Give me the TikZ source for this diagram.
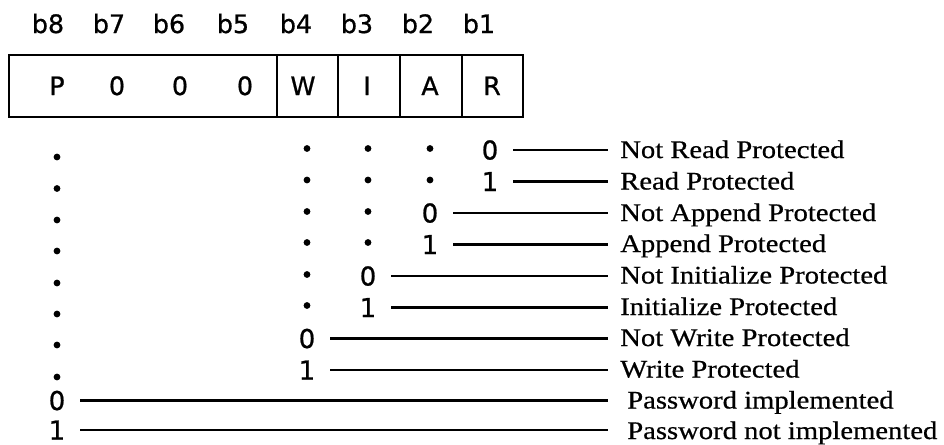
\documentclass[tikz,border=0pt]{standalone}
\usepackage{fontspec}
\setmainfont[FakeStretch=1.13, FakeBold=0.6]{Liberation Serif}
\newfontfamily\bitfont[FakeBold=0.8]{DejaVu Sans}
\usetikzlibrary{positioning}

\begin{document}
\begin{tikzpicture}[
    x=0.75pt, y=-0.75pt,
    bitlbl/.style={font=\bitfont\fontsize{19}{21}\selectfont, anchor=base, inner sep=0pt},
    cell/.style={font=\bitfont\fontsize{19}{21}\selectfont, anchor=base, inner sep=0pt},
    val/.style={font=\bitfont\fontsize{19.5}{21}\selectfont, anchor=base, inner sep=0pt},
    meaning/.style={font=\fontsize{19}{21}\selectfont, anchor=base west, inner sep=0pt},
    wire/.style={line width=2pt, shorten <=11pt, shorten >=9pt},
    frame/.style={line width=2.2pt},
    divider/.style={line width=1.8pt},
]
    \useasboundingbox (0,0) rectangle (944,444);

    % bit numbers
    \node[bitlbl] (b8) at (48,33) {b8};
    \node[bitlbl] (b7) at (109,33) {b7};
    \node[bitlbl] (b6) at (169,33) {b6};
    \node[bitlbl] (b5) at (233,33) {b5};
    \node[bitlbl] (b4) at (296,33) {b4};
    \node[bitlbl] (b3) at (357,33) {b3};
    \node[bitlbl] (b2) at (418,33) {b2};
    \node[bitlbl] (b1) at (479,33) {b1};

    % register
    \draw[frame] (9,55) rectangle (523,117);
    \draw[divider] (277,55) -- (277,117);
    \draw[divider] (338,55) -- (338,117);
    \draw[divider] (400,55) -- (400,117);
    \draw[divider] (462,55) -- (462,117);
    \node[cell] (cP) at (57,95) {P};
    \node[cell] (c7) at (117,95) {0};
    \node[cell] (c6) at (180,95) {0};
    \node[cell] (c5) at (245,95) {0};
    \node[cell] (cW) at (303,95) {W};
    \node[cell] (cI) at (367,95) {I};
    \node[cell] (cA) at (430,95) {A};
    \node[cell] (cR) at (492,95) {R};

    % don't-care dots
    \foreach \y in {157,188.5,220,251,283,314,345,377}
        \fill (57,\y) circle[radius=3.4];
    \foreach \y in {148.5,180}
        \fill (430,\y) circle[radius=3.4];
    \foreach \y in {148.5,180,211.5,242.5}
        \fill (368,\y) circle[radius=3.4];
    \foreach \y in {148.5,180,211.5,242.5,274.5,305.5}
        \fill (307,\y) circle[radius=3.4];

    % values
    \node[val] (rd0) at (490,159.5) {0};
    \node[val] (rd1) at (490,191) {1};
    \node[val] (ap0) at (430,222.5) {0};
    \node[val] (ap1) at (430,254) {1};
    \node[val] (in0) at (368,285.5) {0};
    \node[val] (in1) at (368,317) {1};
    \node[val] (wr0) at (307,348) {0};
    \node[val] (wr1) at (307,379.5) {1};
    \node[val] (pw0) at (57,410) {0};
    \node[val] (pw1) at (57,439.5) {1};

    % meanings
    \node[meaning] (mrd0) at (620,158) {Not Read Protected};
    \node[meaning] (mrd1) at (620,189.5) {Read Protected};
    \node[meaning] (map0) at (620,221) {Not Append Protected};
    \node[meaning] (map1) at (620,252) {Append Protected};
    \node[meaning] (min0) at (620,283.5) {Not Initialize Protected};
    \node[meaning] (min1) at (620,315) {Initialize Protected};
    \node[meaning] (mwr0) at (620,346) {Not Write Protected};
    \node[meaning] (mwr1) at (620,377.5) {Write Protected};
    \node[meaning] (mpw0) at (627,408.5) {Password implemented};
    \node[meaning] (mpw1) at (627,439) {Password not implemented};

    \draw[wire] (rd0.east) -- (rd0.east -| mrd0.west);
    \draw[wire] (rd1.east) -- (rd1.east -| mrd1.west);
    \draw[wire] (ap0.east) -- (ap0.east -| map0.west);
    \draw[wire] (ap1.east) -- (ap1.east -| map1.west);
    \draw[wire] (in0.east) -- (in0.east -| min0.west);
    \draw[wire] (in1.east) -- (in1.east -| min1.west);
    \draw[wire] (wr0.east) -- (wr0.east -| mwr0.west);
    \draw[wire] (wr1.east) -- (wr1.east -| mwr1.west);
    \draw[wire, shorten >=14pt] (pw0.east) -- (pw0.east -| mpw0.west);
    \draw[wire, shorten >=14pt] (pw1.east) -- (pw1.east -| mpw1.west);
\end{tikzpicture}
\end{document}
